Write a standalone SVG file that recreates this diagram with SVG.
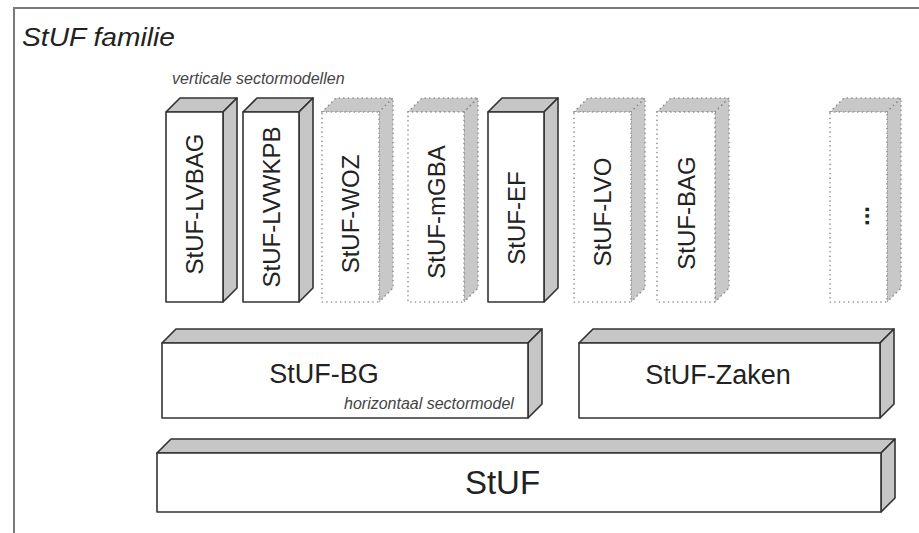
<svg xmlns="http://www.w3.org/2000/svg" width="919" height="533" viewBox="0 0 919 533">
<defs>
<style>
.face{fill:#ffffff;stroke:#333;stroke-width:1.6;stroke-linejoin:round}
.shade{fill:#c6c6c6;stroke:#333;stroke-width:1.6;stroke-linejoin:round}
.dface{fill:#ffffff;stroke:#8a8a8a;stroke-width:1.6;stroke-dasharray:0.1 4.5;stroke-linecap:round}
.dshade{fill:#c8c8c8;stroke:#8a8a8a;stroke-width:1.6;stroke-dasharray:0.1 4.5;stroke-linecap:round}
.lbl{font-family:"Liberation Sans",Arial,sans-serif;fill:#222}
.vl{font-size:24px;text-anchor:middle;dominant-baseline:central}
.note{font-family:"Liberation Sans",Arial,sans-serif;font-style:italic;font-size:16px;fill:#444}
</style>
</defs>
<rect width="919" height="533" fill="#ffffff"/>
<g id="frame">
<path d="M14,533 V8 H919" fill="none" stroke="#7a7a7a" stroke-width="2"/>
<text x="22" y="46" font-family="'Liberation Sans',Arial,sans-serif" font-style="italic" font-size="25" fill="#222" textLength="153" lengthAdjust="spacingAndGlyphs">StUF familie</text>
<text class="note" x="172" y="84">verticale sectormodellen</text>
</g>
<g id="connectors"></g>
<g id="LVBAG">
<polygon class="shade" points="166,112 180,98 237,98 223,112"/>
<polygon class="shade" points="223,112 237,98 237,288 223,302"/>
<rect class="face" x="166" y="112" width="57" height="190"/>
<text class="lbl vl" transform="translate(194.5,204) rotate(-90)">StUF-LVBAG</text>
</g>
<g id="LVWKPB">
<polygon class="shade" points="243,112 257,98 313,98 299,112"/>
<polygon class="shade" points="299,112 313,98 313,288 299,302"/>
<rect class="face" x="243" y="112" width="56" height="190"/>
<text class="lbl vl" transform="translate(271,207) rotate(-90)">StUF-LVWKPB</text>
</g>
<g id="WOZ">
<polygon class="dshade" points="322,112 336,98 393,98 379,112"/>
<polygon class="dshade" points="379,112 393,98 393,288 379,302"/>
<rect class="dface" x="322" y="112" width="57" height="190"/>
<text class="lbl vl" transform="translate(350.5,214) rotate(-90)">StUF-WOZ</text>
</g>
<g id="mGBA">
<polygon class="dshade" points="408,112 422,98 478,98 464,112"/>
<polygon class="dshade" points="464,112 478,98 478,288 464,302"/>
<rect class="dface" x="408" y="112" width="56" height="190"/>
<text class="lbl vl" transform="translate(436,212) rotate(-90)">StUF-mGBA</text>
</g>
<g id="EF">
<polygon class="shade" points="488,112 502,98 558,98 544,112"/>
<polygon class="shade" points="544,112 558,98 558,288 544,302"/>
<rect class="face" x="488" y="112" width="56" height="190"/>
<text class="lbl vl" transform="translate(516,218) rotate(-90)">StUF-EF</text>
</g>
<g id="LVO">
<polygon class="dshade" points="574,112 588,98 645,98 631,112"/>
<polygon class="dshade" points="631,112 645,98 645,288 631,302"/>
<rect class="dface" x="574" y="112" width="57" height="190"/>
<text class="lbl vl" transform="translate(602.5,212) rotate(-90)">StUF-LVO</text>
</g>
<g id="BAG">
<polygon class="dshade" points="657,112 671,98 729,98 715,112"/>
<polygon class="dshade" points="715,112 729,98 729,288 715,302"/>
<rect class="dface" x="657" y="112" width="58" height="190"/>
<text class="lbl vl" transform="translate(686,213) rotate(-90)">StUF-BAG</text>
</g>
<g id="more">
<polygon class="dshade" points="830,112 844,98 901,98 887,112"/>
<polygon class="dshade" points="887,112 901,98 901,288 887,302"/>
<rect class="dface" x="830" y="112" width="57" height="190"/>
<text class="lbl vl" font-weight="bold" transform="translate(860,216) rotate(-90)">...</text>
</g>
<g id="BG">
<polygon class="shade" points="162,343 176,329 542,329 528,343"/>
<polygon class="shade" points="528,343 542,329 542,404 528,418"/>
<rect class="face" x="162" y="343" width="366" height="75"/>
<text class="lbl" x="324" y="383" font-size="27" text-anchor="middle">StUF-BG</text>
<text class="note" x="344" y="409">horizontaal sectormodel</text>
</g>
<g id="Zaken">
<polygon class="shade" points="579,343 593,329 894,329 880,343"/>
<polygon class="shade" points="880,343 894,329 894,404 880,418"/>
<rect class="face" x="579" y="343" width="301" height="75"/>
<text class="lbl" x="718" y="384" font-size="27" text-anchor="middle">StUF-Zaken</text>
</g>
<g id="StUF">
<polygon class="shade" points="157,453 171,439 895,439 881,453"/>
<polygon class="shade" points="881,453 895,439 895,498 881,512"/>
<rect class="face" x="157" y="453" width="724" height="59"/>
<text class="lbl" x="502.5" y="494" font-size="33" text-anchor="middle">StUF</text>
</g>
</svg>
